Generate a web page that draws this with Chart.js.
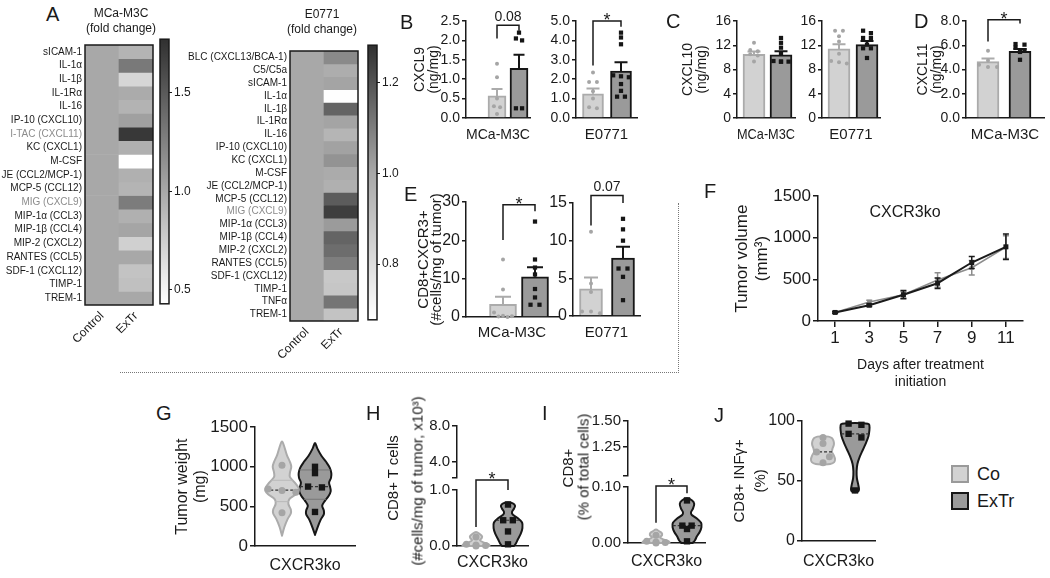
<!DOCTYPE html>
<html>
<head>
<meta charset="utf-8">
<title>CXCR3 ligands and exercise training</title>
<script src="https://cdn.jsdelivr.net/npm/chart.js@4.4.1/dist/chart.umd.min.js"></script>
<style>
  body { margin: 0; width: 1050px; height: 578px; position: relative; overflow: hidden; background: #fff;
         font-family: 'Liberation Sans', Arial, sans-serif; color: #1a1a1a; }
  canvas { position: absolute; }
  .txt { position: absolute; white-space: nowrap; line-height: 1; }
  .rot { position: absolute; white-space: nowrap; line-height: 1; transform: translate(-50%, -50%) rotate(-90deg); }
  .key { position: absolute; width: 14px; height: 14px; border: 2px solid; }
  .dots { position: absolute; border: 0 dotted #777; }
</style>
</head>
<body>
<script>
// ---------- A: cytokine array, fold change ExTr vs Control ----------
const m3cRows = ['sICAM-1', 'IL-1α', 'IL-1β', 'IL-1Rα', 'IL-16', 'IP-10 (CXCL10)', 'I-TAC (CXCL11)', 'KC (CXCL1)',
  'M-CSF', 'JE (CCL2/MCP-1)', 'MCP-5 (CCL12)', 'MIG (CXCL9)', 'MIP-1α (CCL3)', 'MIP-1β (CCL4)', 'MIP-2 (CXCL2)',
  'RANTES (CCL5)', 'SDF-1 (CXCL12)', 'TIMP-1', 'TREM-1'];
const m3cControl = [1, 1, 1, 1, 1, 1, 1, 1, 1, 1, 1, 1, 1, 1, 1, 1, 1, 1, 1];
const m3cExTr = [0.92, 1.3, 0.7, 0.98, 0.93, 1.05, 1.72, 0.95, 0.43, 0.95, 0.92, 1.28, 0.95, 1.02, 0.74, 1.0, 0.82, 0.84, 1.0];
const m3cScale = [0.43, 1.0, 1.77];      // low, centre, high of the colour bar
const m3cTicks = [0.5, 1.0, 1.5];

const e0771Rows = ['BLC (CXCL13/BCA-1)', 'C5/C5a', 'sICAM-1', 'IL-1α', 'IL-1β', 'IL-1Rα', 'IL-16', 'IP-10 (CXCL10)',
  'KC (CXCL1)', 'M-CSF', 'JE (CCL2/MCP-1)', 'MCP-5 (CCL12)', 'MIG (CXCL9)', 'MIP-1α (CCL3)', 'MIP-1β (CCL4)',
  'MIP-2 (CXCL2)', 'RANTES (CCL5)', 'SDF-1 (CXCL12)', 'TIMP-1', 'TNFα', 'TREM-1'];
const e0771Control = [1, 1, 1, 1, 1, 1, 1, 1, 1, 1, 1, 1, 1, 1, 1, 1, 1, 1, 1, 1, 1];
const e0771ExTr = [1.07, 0.98, 1.01, 0.68, 1.16, 1.01, 0.95, 1.015, 1.05, 0.99, 0.97, 1.18, 1.25, 1.03, 1.16, 1.14, 1.1, 0.88, 0.89, 1.12, 0.9];
const e0771Scale = [0.677, 1.0, 1.283];
const e0771Ticks = [0.8, 1.0, 1.2];
const mutedRows = ['I-TAC (CXCL11)', 'MIG (CXCL9)'];

// ---------- B-E: bars, [Co, ExTr] mean + SEM and single animals ----------
const cxcl9M3cMean = [0.57, 1.28], cxcl9M3cSem = [0.18, 0.35];
const cxcl9M3cCo = [1.4, 1.05, 0.5, 0.3, 0.28, 0.1];
const cxcl9M3cEx = [2.2, 2.05, 2.0, 0.25, 0.25];
const cxcl9M3cSig = [2.39, 2.05, 2.25];          // bracket top, left leg end, right leg end

const cxcl9E0771Mean = [1.25, 2.42], cxcl9E0771Sem = [0.27, 0.45];
const cxcl9E0771Co = [2.35, 1.85, 1.85, 1.38, 1.0, 0.55, 0.5];
const cxcl9E0771Ex = [4.4, 4.15, 3.8, 2.2, 2.15, 2.1, 1.75, 1.4, 1.1, 1.1];
const cxcl9E0771Sig = [5.0, 2.7, 4.7];

const cxcl10M3cMean = [10.5, 10.4], cxcl10M3cSem = [0.45, 0.6];
const cxcl10M3cCo = [12.4, 11.2, 11.0, 10.5, 10.3, 9.3];
const cxcl10M3cEx = [13.2, 12.4, 11.6, 10.6, 9.3, 9.3, 9.3, 9.4];

const cxcl10E0771Mean = [11.4, 12.1], cxcl10E0771Sem = [0.75, 0.6];
const cxcl10E0771Co = [14.4, 14.4, 13.5, 12.6, 10.6, 9.4, 9.2, 9.0];
const cxcl10E0771Ex = [14.4, 14.0, 13.2, 13.2, 12.1, 11.5, 11.5, 9.9];

const cxcl11M3cMean = [4.65, 5.5], cxcl11M3cSem = [0.25, 0.2];
const cxcl11M3cCo = [5.55, 4.75, 4.4, 4.2, 4.2];
const cxcl11M3cEx = [6.1, 6.05, 5.8, 5.6, 5.45, 4.8];
const cxcl11M3cSig = [8.1, 6.3, 7.8];

const cxcr3M3cMean = [3.3, 10.5], cxcr3M3cSem = [2.0, 2.5];
const cxcr3M3cCo = [15, 7.2, 1.2, 0.3, 0.2, 0.1, 0];
const cxcr3M3cEx = [24.9, 15, 12.9, 11.1, 7.3, 5.1, 3.2, 3.2];
const cxcr3M3cSig = [29.3, 20.1, 27.6];

const cxcr3E0771Mean = [3.6, 7.7], cxcr3E0771Sem = [1.5, 1.5];
const cxcr3E0771Co = [11.2, 4.3, 3.2, 0.6, 0.6, 0.35];
const cxcr3E0771Ex = [12.9, 11.5, 10.0, 6.3, 6.3, 5.2, 2.1];
const cxcr3E0771Sig = [16.0, 12.0, 15.0];

// ---------- F: tumour growth in CXCR3ko ----------
const days = [1, 3, 5, 7, 9, 11];
const volCo = [103, 229, 316, 493, 640, 888], volCoSem = [10, 20, 40, 87, 88, 138];
const volEx = [103, 190, 316, 454, 703, 892], volExSem = [10, 15, 50, 63, 73, 154];
const volTicks = [0, 500, 1000, 1500];

// ---------- G-J: violins, shape = [value, relative width] from bottom to top ----------
const weightCo = [1020, 720, 700, 680, 420], weightEx = [1000, 920, 750, 740, 430];
const weightCoShape = [[130, 0], [240, 0.15], [340, 0.35], [410, 0.55], [460, 0.55], [530, 0.4], [590, 0.45], [650, 0.85],
  [700, 1.05], [740, 1.02], [800, 0.8], [870, 0.5], [930, 0.5], [1000, 0.58], [1060, 0.5], [1150, 0.3], [1250, 0.15], [1320, 0]];
const weightExShape = [[140, 0], [230, 0.15], [330, 0.35], [400, 0.55], [450, 0.55], [510, 0.45], [570, 0.62], [630, 0.85],
  [690, 0.98], [740, 0.95], [800, 0.88], [860, 1.0], [920, 1.02], [990, 0.92], [1060, 0.7], [1140, 0.4], [1230, 0.15], [1300, 0]];
const weightMedian = [705, 750];
const weightCoQuart = [560, 830], weightExQuart = [590, 960];

const cd8Co = [0.16, 0.03, 0.02, 0.01, 0.0], cd8Ex = [0.74, 0.46, 0.46, 0.26, 0.03];
const cd8CoShape = [[0, 0.85], [0.03, 0.8], [0.06, 0.5], [0.1, 0.25], [0.14, 0.35], [0.17, 0.38], [0.21, 0.25], [0.25, 0]];
const cd8ExShape = [[0, 0.38], [0.05, 0.5], [0.12, 0.62], [0.22, 0.8], [0.32, 0.9], [0.42, 0.88], [0.5, 0.6], [0.56, 0.3],
  [0.61, 0.25], [0.67, 0.38], [0.72, 0.44], [0.76, 0.3], [0.78, 0]];
const cd8Median = [null, 0.46];
const cd8Sig = [1.18, 0.34, 1.0];

const cd8PctCo = [0.014, 0.003, 0.002, 0.001, 0.0], cd8PctEx = [0.076, 0.031, 0.031, 0.025, 0.003];
const cd8PctCoShape = [[0, 0.85], [0.003, 0.8], [0.006, 0.5], [0.01, 0.25], [0.014, 0.38], [0.018, 0.35], [0.021, 0.2], [0.024, 0]];
const cd8PctExShape = [[0, 0.35], [0.005, 0.5], [0.012, 0.62], [0.02, 0.8], [0.028, 0.9], [0.036, 0.88], [0.044, 0.6], [0.05, 0.3],
  [0.055, 0.25], [0.062, 0.38], [0.07, 0.45], [0.076, 0.32], [0.08, 0]];
const cd8PctMedian = [null, 0.031];
const cd8PctSig = [0.102, 0.036, 0.089];

const ifngCo = [86, 81, 74, 70, 65], ifngEx = [97.5, 96.5, 89, 86, 42];
const ifngCoShape = [[63.5, 0], [64, 0.45], [65.5, 0.7], [68, 0.75], [71, 0.68], [74, 0.56], [77, 0.6], [80, 0.68],
  [83, 0.66], [85.5, 0.55], [86.7, 0.35], [87, 0]];
const ifngExShape = [[40.5, 0], [41.2, 0.2], [43, 0.25], [47, 0.2], [52, 0.12], [58, 0.1], [64, 0.15], [70, 0.3],
  [76, 0.5], [82, 0.7], [87, 0.84], [92, 0.9], [95.5, 0.9], [97.3, 0.8], [98, 0]];
const ifngMedian = [74, 89];

// ---------- style ----------
const INK = '#1a1a1a';
const CO_FILL = '#d2d2d2', CO_LINE = '#ababab', CO_DOT = '#a5a5a5';
const EX_FILL = '#9a9a9a', EX_LINE = '#161616', EX_DOT = '#161616';
const MID_GRAY = 168, DARK_GRAY = 48;
const FONT = "'Liberation Sans', Arial, sans-serif";

Chart.defaults.font.family = FONT;
Chart.defaults.color = INK;
Chart.defaults.animation = false;
Chart.defaults.responsive = false;
Chart.defaults.events = [];
Chart.defaults.layout.autoPadding = false;
Chart.defaults.plugins.legend.display = false;
Chart.defaults.plugins.tooltip.enabled = false;

// ---------- plugins ----------
// error bars kept on a dataset as `errors` (SEM)
const errorBars = {
  id: 'errorBars',
  afterDatasetDraw(chart, args) {
    const ds = chart.data.datasets[args.index];
    if (!ds.errors) return;
    const {ctx, scales: {x, y}} = chart;
    ctx.save();
    ds.data.forEach((pt, i) => {
      const e = ds.errors[i];
      const px = x.getPixelForValue(pt.x);
      const hi = y.getPixelForValue(pt.y + e);
      const lo = y.getPixelForValue(ds.errorMode === 'up' ? pt.y : pt.y - e);
      const half = ds.capWidth / 2;
      ctx.strokeStyle = Array.isArray(ds.errorColor) ? ds.errorColor[i] : ds.errorColor;
      ctx.lineWidth = ds.errorWidth || 2;
      ctx.beginPath();
      ctx.moveTo(px, lo); ctx.lineTo(px, hi);
      ctx.moveTo(px - half, hi); ctx.lineTo(px + half, hi);
      if (ds.errorMode !== 'up') { ctx.moveTo(px - half, lo); ctx.lineTo(px + half, lo); }
      ctx.stroke();
    });
    ctx.restore();
  }
};

// significance bracket between group 0 and group 1
const sigBrackets = {
  id: 'sigBrackets',
  afterDatasetsDraw(chart) {
    const {ctx, scales: {x, y}} = chart;
    chart.data.datasets.forEach(ds => {
      const b = ds.bracket;
      if (!b) return;
      const x0 = x.getPixelForValue(0), x1 = x.getPixelForValue(1);
      const top = y.getPixelForValue(b.at[0]);
      ctx.save();
      ctx.strokeStyle = INK;
      ctx.lineWidth = 1.5;
      ctx.beginPath();
      ctx.moveTo(x0, y.getPixelForValue(b.at[1]));
      ctx.lineTo(x0, top);
      ctx.lineTo(x1, top);
      ctx.lineTo(x1, y.getPixelForValue(b.at[2]));
      ctx.stroke();
      const star = b.text === '*';
      const fs = star ? 18 : b.fs;
      ctx.font = `${fs}px ${FONT}`;
      ctx.fillStyle = INK;
      ctx.textAlign = 'center';
      ctx.textBaseline = 'alphabetic';
      ctx.fillText(b.text, (x0 + x1) / 2, star ? top + fs * 0.3 : top - 4);
      ctx.restore();
    });
  }
};

function smoothPath(ctx, pts) {
  ctx.moveTo(pts[0][0], pts[0][1]);
  for (let i = 0; i < pts.length - 1; i++) {
    const p0 = pts[i - 1] || pts[i], p1 = pts[i], p2 = pts[i + 1], p3 = pts[i + 2] || p2;
    ctx.bezierCurveTo(p1[0] + (p2[0] - p0[0]) / 6, p1[1] + (p2[1] - p0[1]) / 6,
                      p2[0] - (p3[0] - p1[0]) / 6, p2[1] - (p3[1] - p1[1]) / 6, p2[0], p2[1]);
  }
}

function widthAt(profile, v) {
  for (let i = 0; i < profile.length - 1; i++) {
    const [a, da] = profile[i], [b, db] = profile[i + 1];
    if (v >= a && v <= b) return da + (db - da) * (v - a) / (b - a);
  }
  return 0;
}

// violin outline kept on a point dataset as `violin`
const violins = {
  id: 'violins',
  beforeDatasetsDraw(chart) {
    const {ctx, scales: {x, y}} = chart;
    chart.data.datasets.forEach(ds => {
      const v = ds.violin;
      if (!v) return;
      const left = v.profile.map(([val, d]) => [x.getPixelForValue(v.center - d * v.half), y.getPixelForValue(val)]);
      const right = v.profile.slice().reverse().map(([val, d]) => [x.getPixelForValue(v.center + d * v.half), y.getPixelForValue(val)]);
      const pts = left.concat(right).filter((p, i, arr) =>
        i === 0 || Math.abs(p[0] - arr[i - 1][0]) + Math.abs(p[1] - arr[i - 1][1]) > 0.3);
      ctx.save();
      ctx.beginPath();
      smoothPath(ctx, pts);
      ctx.closePath();
      ctx.fillStyle = v.fill;
      ctx.fill();
      ctx.lineWidth = 2;
      ctx.lineJoin = 'round';
      ctx.strokeStyle = v.stroke;
      ctx.stroke();
      const rule = (val, dash, color, lw) => {
        const d = widthAt(v.profile, val) * v.half;
        ctx.beginPath();
        ctx.setLineDash(dash);
        ctx.strokeStyle = color;
        ctx.lineWidth = lw;
        ctx.moveTo(x.getPixelForValue(v.center - d), y.getPixelForValue(val));
        ctx.lineTo(x.getPixelForValue(v.center + d), y.getPixelForValue(val));
        ctx.stroke();
      };
      (v.quartiles || []).forEach(q => rule(q, [], v.qColor, 1));
      if (v.median != null) rule(v.median, [3, 2], '#333', 1.2);
      ctx.restore();
    });
  }
};

const frame = {
  id: 'frame',
  afterDraw(chart) {
    const {ctx, chartArea: a} = chart;
    ctx.save();
    ctx.strokeStyle = INK;
    ctx.lineWidth = 1.5;
    ctx.strokeRect(a.left, a.top, a.width, a.height);
    ctx.restore();
  }
};

Chart.register(errorBars, sigBrackets, violins);

// ---------- helpers ----------
function place(left, top, w, h) {
  const c = document.createElement('canvas');
  c.width = w; c.height = h;
  c.style.left = left + 'px'; c.style.top = top + 'px';
  c.style.width = w + 'px'; c.style.height = h + 'px';
  document.body.appendChild(c);
  return c;
}

function text(str, x, y, size, opts = {}) {
  const d = document.createElement('div');
  d.className = opts.rot ? 'rot' : 'txt';
  d.textContent = str;
  d.style.fontSize = size + 'px';
  d.style.left = x + 'px';
  d.style.top = y + 'px';
  if (opts.center) d.style.transform = 'translate(-50%, -50%)';
  document.body.appendChild(d);
}

// spread near-equal values sideways, centred on the group
function swarm(values, center, tol, step) {
  const sorted = values.map((v, i) => ({v, i})).sort((a, b) => b.v - a.v);
  const out = new Array(values.length);
  let cluster = [];
  const flush = () => {
    cluster.forEach((p, k) => { out[p.i] = {x: center + (k - (cluster.length - 1) / 2) * step, y: p.v}; });
    cluster = [];
  };
  sorted.forEach(p => {
    if (cluster.length && (cluster[0].v - p.v > tol || cluster.length >= 3)) flush();
    cluster.push(p);
  });
  flush();
  return out;
}

function shade(v, [lo, mid, hi]) {
  let g;
  if (v <= mid) g = MID_GRAY + (255 - MID_GRAY) * Math.min(1, (mid - v) / (mid - lo));
  else g = MID_GRAY - (MID_GRAY - DARK_GRAY) * Math.min(1, (v - mid) / (hi - mid));
  g = Math.round(g);
  return `rgb(${g},${g},${g})`;
}

function valueAxis(o) {
  return {
    type: 'linear', position: 'left', min: o.min, max: o.max,
    afterFit: s => { s.width = o.w; },
    afterBuildTicks: s => { if (o.ticks) s.ticks = o.ticks.map(v => ({value: v})); },
    border: {color: INK, width: 1.5},
    grid: {drawOnChartArea: false, color: INK, lineWidth: 1.5, tickLength: o.tl || 5},
    ticks: {
      stepSize: o.step, padding: 2, autoSkip: false, font: {size: o.fs}, color: INK,
      callback: v => (o.blank != null && Math.abs(v - o.blank) < 1e-9) ? '' : Number(v).toFixed(o.dec)
    },
    title: {display: !!o.title, text: o.title || '', color: INK, font: {size: o.tfs || 14, lineHeight: o.tlh || 1}, padding: 0}
  };
}

function groupAxis(o) {
  return {
    type: 'linear', min: o.min, max: o.max, offset: false,
    afterFit: s => { s.height = o.h; },
    border: {color: INK, width: 1.5},
    grid: {display: false},
    ticks: {display: false},
    title: {display: !!o.title, text: o.title || '', color: INK, font: {size: o.fs || 15, lineHeight: 1.2},
            padding: {top: 0, bottom: o.pb || 0}}
  };
}

// ---------- A ----------
function heatmap(p, rows, ctrl, extr, scale) {
  const cv = place(p.ax - p.yW, p.yt - 2, p.yW + (p.ar - p.ax) + 2, (p.yb - p.yt) + 2 + p.xH);
  new Chart(cv, {
    type: 'bar',
    data: {
      labels: ['Control', 'ExTr'],
      datasets: rows.map((r, i) => ({
        data: [1, 1],
        backgroundColor: [shade(ctrl[i], scale), shade(extr[i], scale)],
        borderWidth: 0, barPercentage: 1, categoryPercentage: 1
      }))
    },
    options: {
      layout: {padding: {top: 2, right: 2}},
      scales: {
        x: {
          stacked: true, afterFit: s => { s.height = p.xH; },
          grid: {display: false, drawTicks: false}, border: {display: false},
          ticks: {minRotation: 45, maxRotation: 45, font: {size: 12}, color: INK, padding: 4}
        },
        y: {
          stacked: true, reverse: true, min: 0, max: rows.length,
          afterFit: s => { s.width = p.yW; },
          afterBuildTicks: s => { s.ticks = rows.map((r, i) => ({value: i + 0.5})); },
          grid: {display: false, drawTicks: false}, border: {display: false},
          ticks: {
            autoSkip: false, font: {size: 10}, padding: 3,
            callback: (v, i) => rows[i],
            color: c => mutedRows.includes(rows[c.index]) ? '#8c8c8c' : INK
          }
        }
      }
    },
    plugins: [frame]
  });
}

function colorBar(p, scale, ticks) {
  const cv = place(p.x0 - 1, p.yt - 8, (p.x1 - p.x0) + 1 + p.yW, (p.yb - p.yt) + 16);
  new Chart(cv, {
    type: 'bar',
    data: {
      labels: [''],
      datasets: [{
        data: [[scale[0], scale[2]]], borderWidth: 0, barPercentage: 1, categoryPercentage: 1,
        backgroundColor: c => {
          const a = c.chart.chartArea;
          if (!a) return '#aaa';
          const g = c.chart.ctx.createLinearGradient(0, a.bottom, 0, a.top);
          g.addColorStop(0, '#ffffff');
          g.addColorStop((scale[1] - scale[0]) / (scale[2] - scale[0]), shade(scale[1], scale));
          g.addColorStop(1, shade(scale[2], scale));
          return g;
        }
      }]
    },
    options: {
      layout: {padding: {left: 1, top: 8, bottom: 8}},
      scales: {
        x: {display: false},
        y: {
          position: 'right', min: scale[0], max: scale[2],
          afterFit: s => { s.width = p.yW; },
          afterBuildTicks: s => { s.ticks = ticks.map(v => ({value: v})); },
          grid: {drawOnChartArea: false, tickLength: 3, color: INK},
          border: {display: false},
          ticks: {font: {size: 12}, padding: 2, color: INK, callback: v => Number(v).toFixed(1)}
        }
      }
    },
    plugins: [frame]
  });
}

heatmap({ax: 85, ar: 153, yt: 38, yb: 305, yW: 85, xH: 45}, m3cRows, m3cControl, m3cExTr, m3cScale);
colorBar({x0: 160, x1: 169, yt: 38, yb: 305, yW: 28}, m3cScale, m3cTicks);
heatmap({ax: 290, ar: 358, yt: 44, yb: 321, yW: 110, xH: 45}, e0771Rows, e0771Control, e0771ExTr, e0771Scale);
colorBar({x0: 368, x1: 377, yt: 44, yb: 321, yW: 28}, e0771Scale, e0771Ticks);

// ---------- B-E ----------
function barPanel(p, d) {
  const unit = p.ex - p.co;
  const padTop = 28, padRight = 4;
  const cv = place(p.ax - p.yW, p.yt - padTop, p.yW + (p.ar - p.ax) + padRight, padTop + (p.yb - p.yt) + p.xH);
  const tol = d.max * 0.035;
  new Chart(cv, {
    type: 'bar',
    data: {
      datasets: [
        {type: 'scatter', data: swarm(d.co, 0, tol, 0.28), pointStyle: 'circle', radius: 2,
         backgroundColor: CO_DOT, borderWidth: 0, clip: false},
        {type: 'scatter', data: swarm(d.ex, 1, tol, 0.28), pointStyle: 'rect', radius: 3,
         backgroundColor: EX_DOT, borderWidth: 0, clip: false},
        {type: 'bar', data: [{x: 0, y: d.mean[0]}, {x: 1, y: d.mean[1]}], barThickness: p.bw,
         backgroundColor: [CO_FILL, EX_FILL], borderColor: [CO_LINE, EX_LINE], borderWidth: 2,
         errors: d.sem, errorMode: 'up', errorColor: [CO_LINE, EX_LINE], capWidth: Math.round(p.bw * 0.6),
         bracket: d.sig ? {at: d.sig, text: d.sigText, fs: 14} : null}
      ]
    },
    options: {
      layout: {padding: {top: padTop, right: padRight}},
      scales: {
        x: groupAxis({min: -(p.co - p.ax) / unit, max: 1 + (p.ar - p.ex) / unit, h: p.xH, title: d.group, fs: 15}),
        y: valueAxis({min: 0, max: d.max, step: d.step, dec: d.dec, fs: p.fs || 14, tl: 4, w: p.yW,
                      title: d.title, tfs: p.tfs || 14, tlh: p.tlh || 1})
      }
    }
  });
}

barPanel({ax: 466, ar: 530, yt: 21, yb: 118, co: 497, ex: 519, bw: 18, yW: 53, xH: 26},
  {mean: cxcl9M3cMean, sem: cxcl9M3cSem, co: cxcl9M3cCo, ex: cxcl9M3cEx, max: 2.5, step: 0.5, dec: 1,
   title: ['CXCL9', '(ng/mg)'], group: 'MCa-M3C', sig: cxcl9M3cSig, sigText: '0.08'});
barPanel({ax: 576, ar: 637, yt: 21, yb: 118, co: 593, ex: 621, bw: 21, yW: 30, xH: 26},
  {mean: cxcl9E0771Mean, sem: cxcl9E0771Sem, co: cxcl9E0771Co, ex: cxcl9E0771Ex, max: 5, step: 1, dec: 1,
   group: 'E0771', sig: cxcl9E0771Sig, sigText: '*'});
barPanel({ax: 737, ar: 795, yt: 21, yb: 118, co: 754, ex: 781, bw: 22, yW: 56, xH: 26},
  {mean: cxcl10M3cMean, sem: cxcl10M3cSem, co: cxcl10M3cCo, ex: cxcl10M3cEx, max: 16, step: 4, dec: 0,
   title: ['CXCL10', '(ng/mg)'], group: 'MCa-M3C'});
barPanel({ax: 822, ar: 880, yt: 21, yb: 118, co: 839, ex: 867, bw: 22, yW: 30, xH: 26},
  {mean: cxcl10E0771Mean, sem: cxcl10E0771Sem, co: cxcl10E0771Co, ex: cxcl10E0771Ex, max: 16, step: 4, dec: 0,
   group: 'E0771'});
barPanel({ax: 966, ar: 1044, yt: 21, yb: 118, co: 988, ex: 1020, bw: 22, yW: 50, xH: 26},
  {mean: cxcl11M3cMean, sem: cxcl11M3cSem, co: cxcl11M3cCo, ex: cxcl11M3cEx, max: 8, step: 2, dec: 1,
   title: ['CXCL11', '(ng/mg)'], group: 'MCa-M3C', sig: cxcl11M3cSig, sigText: '*'});
barPanel({ax: 466, ar: 558, yt: 202, yb: 317, co: 503, ex: 535, bw: 27, yW: 49, xH: 25, fs: 16, tfs: 15, tlh: 0.9},
  {mean: cxcr3M3cMean, sem: cxcr3M3cSem, co: cxcr3M3cCo, ex: cxcr3M3cEx, max: 30, step: 10, dec: 0,
   title: ['CD8+CXCR3+', '(#cells/mg of tumor)'], group: 'MCa-M3C', sig: cxcr3M3cSig, sigText: '*'});
barPanel({ax: 573, ar: 640, yt: 203, yb: 316, co: 591, ex: 623, bw: 23, yW: 28, xH: 26, fs: 16},
  {mean: cxcr3E0771Mean, sem: cxcr3E0771Sem, co: cxcr3E0771Co, ex: cxcr3E0771Ex, max: 15, step: 5, dec: 0,
   group: 'E0771', sig: cxcr3E0771Sig, sigText: '0.07'});

// ---------- F ----------
new Chart(place(732, 184, 301, 207), {
  type: 'scatter',
  data: {
    datasets: [
      {data: days.map((d, i) => ({x: d, y: volEx[i]})), showLine: true, borderColor: INK, borderWidth: 2,
       pointStyle: 'rect', radius: 3.5, backgroundColor: INK, pointBorderWidth: 0, clip: false,
       errors: volExSem, errorMode: 'both', errorColor: INK, capWidth: 6, errorWidth: 1.5},
      {data: days.map((d, i) => ({x: d, y: volCo[i]})), showLine: true, borderColor: '#8c8c8c', borderWidth: 1.6,
       pointStyle: 'rect', radius: 3, backgroundColor: '#8c8c8c', pointBorderWidth: 0, clip: false,
       errors: volCoSem, errorMode: 'both', errorColor: '#8c8c8c', capWidth: 6, errorWidth: 1.5}
    ]
  },
  options: {
    layout: {padding: {top: 10, right: 10}},
    scales: {
      x: {
        type: 'linear', min: 0, max: 12,
        afterFit: s => { s.height = 70; },
        afterBuildTicks: s => { s.ticks = days.map(v => ({value: v})); },
        border: {color: INK, width: 1.5},
        grid: {drawOnChartArea: false, color: INK, lineWidth: 1.5, tickLength: 6},
        ticks: {font: {size: 17}, padding: 1, color: INK},
        title: {display: true, text: ['Days after treatment', 'initiation'], color: INK,
                font: {size: 14, lineHeight: 1.25}, padding: 0}
      },
      y: valueAxis({min: 0, max: 1500, ticks: volTicks, dec: 0, fs: 17, w: 86,
                    title: ['Tumor volume', '(mm³)'], tfs: 17, tlh: 1.2})
    }
  }
});

// ---------- G-J ----------
function violinPanel(p, d) {
  const unit = p.ex - p.co, half = 16 / unit;
  const padTop = p.padTop || 10;
  const cv = place(p.ax - p.yW, p.yt - padTop, p.yW + (p.ar - p.ax) + 4, padTop + (p.yb - p.yt) + p.xH);
  new Chart(cv, {
    type: 'scatter',
    data: {
      datasets: [
        {data: swarm(d.exPts, 1, d.tol, d.step), pointStyle: 'rect', radius: 4.5, backgroundColor: EX_DOT,
         borderWidth: 0, clip: false,
         violin: {center: 1, half, profile: d.exShape, median: d.median[1], quartiles: d.exQ,
                  fill: EX_FILL, stroke: EX_LINE, qColor: '#777'}},
        {data: swarm(d.coPts, 0, d.tol, d.step), pointStyle: 'circle', radius: 3.5, backgroundColor: CO_DOT,
         borderWidth: 0, clip: false,
         violin: {center: 0, half, profile: d.coShape, median: d.median[0], quartiles: d.coQ,
                  fill: CO_FILL, stroke: CO_LINE, qColor: '#b9b9b9'},
         bracket: d.sig ? {at: d.sig, text: '*', fs: 18} : null}
      ]
    },
    options: {
      layout: {padding: {top: padTop, right: 4}},
      scales: {
        x: groupAxis({min: -(p.co - p.ax) / unit, max: 1 + (p.ar - p.ex) / unit, h: p.xH, title: 'CXCR3ko', fs: 16, pb: p.pb}),
        y: valueAxis({...d.axis, w: p.yW})
      }
    }
  });
}

function axisSegment(p, o) {
  const cv = place(p.ax - p.yW, p.yt - 10, p.yW + 3, (p.yb - p.yt) + 20);
  new Chart(cv, {
    type: 'scatter',
    data: {datasets: []},
    options: {
      layout: {padding: {top: 10, bottom: 10, right: 3}},
      scales: {x: {display: false}, y: valueAxis({...o, w: p.yW})}
    }
  });
}

violinPanel({ax: 255, ar: 355, yt: 425, yb: 546, co: 282, ex: 315, yW: 82, xH: 29, pb: 0},
  {coPts: weightCo, exPts: weightEx, coShape: weightCoShape, exShape: weightExShape, median: weightMedian,
   coQ: weightCoQuart, exQ: weightExQuart, tol: 45, step: 0.42,
   axis: {min: 0, max: 1500, step: 500, dec: 0, fs: 17, title: ['Tumor weight', '(mg)'], tfs: 16, tlh: 1.15}});

axisSegment({ax: 457, yt: 425, yb: 479, yW: 32}, {min: 2.16, max: 8, ticks: [2.16, 4, 8], blank: 2.16, dec: 1, fs: 15});
violinPanel({ax: 457, ar: 528, yt: 490, yb: 546, co: 476, ex: 508, yW: 32, xH: 29, padTop: 28, pb: 3},
  {coPts: cd8Co, exPts: cd8Ex, coShape: cd8CoShape, exShape: cd8ExShape, median: cd8Median, sig: cd8Sig,
   tol: 0.03, step: 0.3, axis: {min: 0, max: 1, ticks: [0, 1], dec: 1, fs: 15}});

axisSegment({ax: 628, yt: 420, yb: 477, yW: 38}, {min: 0.972, max: 1.5, ticks: [0.972, 1.25, 1.5], blank: 0.972, dec: 2, fs: 15});
violinPanel({ax: 628, ar: 705, yt: 487, yb: 543, co: 656, ex: 687, yW: 38, xH: 32, padTop: 28, pb: 4},
  {coPts: cd8PctCo, exPts: cd8PctEx, coShape: cd8PctCoShape, exShape: cd8PctExShape, median: cd8PctMedian, sig: cd8PctSig,
   tol: 0.003, step: 0.3, axis: {min: 0, max: 0.1, ticks: [0, 0.1], dec: 2, fs: 15}});

violinPanel({ax: 802, ar: 875, yt: 419, yb: 541, co: 823, ex: 855, yW: 73, xH: 34, pb: 4},
  {coPts: ifngCo, exPts: ifngEx, coShape: ifngCoShape, exShape: ifngExShape, median: ifngMedian,
   tol: 4, step: 0.4, axis: {min: 0, max: 100, step: 50, dec: 0, fs: 16, title: ['CD8+ INFγ+', '(%)'], tfs: 15, tlh: 1.4}});

// ---------- text, legend, dividers ----------
[['A', 46, 4], ['B', 400, 12], ['C', 666, 11], ['D', 914, 11], ['E', 404, 184], ['F', 704, 181],
 ['G', 156, 403], ['H', 366, 403], ['I', 542, 403], ['J', 714, 405]].forEach(([s, x, y]) => text(s, x, y, 20));

text('MCa-M3C', 121, 13, 12, {center: true});
text('(fold change)', 121, 28, 12, {center: true});
text('E0771', 322, 14, 12, {center: true});
text('(fold change)', 322, 29, 12, {center: true});
text('CXCR3ko', 905, 212, 16, {center: true});

text('CD8+ T cells', 392, 478, 15, {rot: true});
text('(#cells/mg of tumor, x10³)', 417, 481, 15, {rot: true});
text('CD8+', 567, 468, 15, {rot: true});
text('(% of total cells)', 583, 467, 15, {rot: true});

[['Co', 465, CO_FILL, '#9a9a9a'], ['ExTr', 492, EX_FILL, EX_LINE]].forEach(([s, y, fill, line]) => {
  const k = document.createElement('div');
  k.className = 'key';
  k.style.left = '951px'; k.style.top = y + 'px';
  k.style.background = fill; k.style.borderColor = line;
  document.body.appendChild(k);
  text(s, 977, y, 18);
});

const hDiv = document.createElement('div');
hDiv.className = 'dots';
Object.assign(hDiv.style, {left: '120px', top: '372px', width: '559px', borderTopWidth: '1px'});
document.body.appendChild(hDiv);
const vDiv = document.createElement('div');
vDiv.className = 'dots';
Object.assign(vDiv.style, {left: '678px', top: '203px', height: '170px', borderLeftWidth: '1px'});
document.body.appendChild(vDiv);
</script>
</body>
</html>
